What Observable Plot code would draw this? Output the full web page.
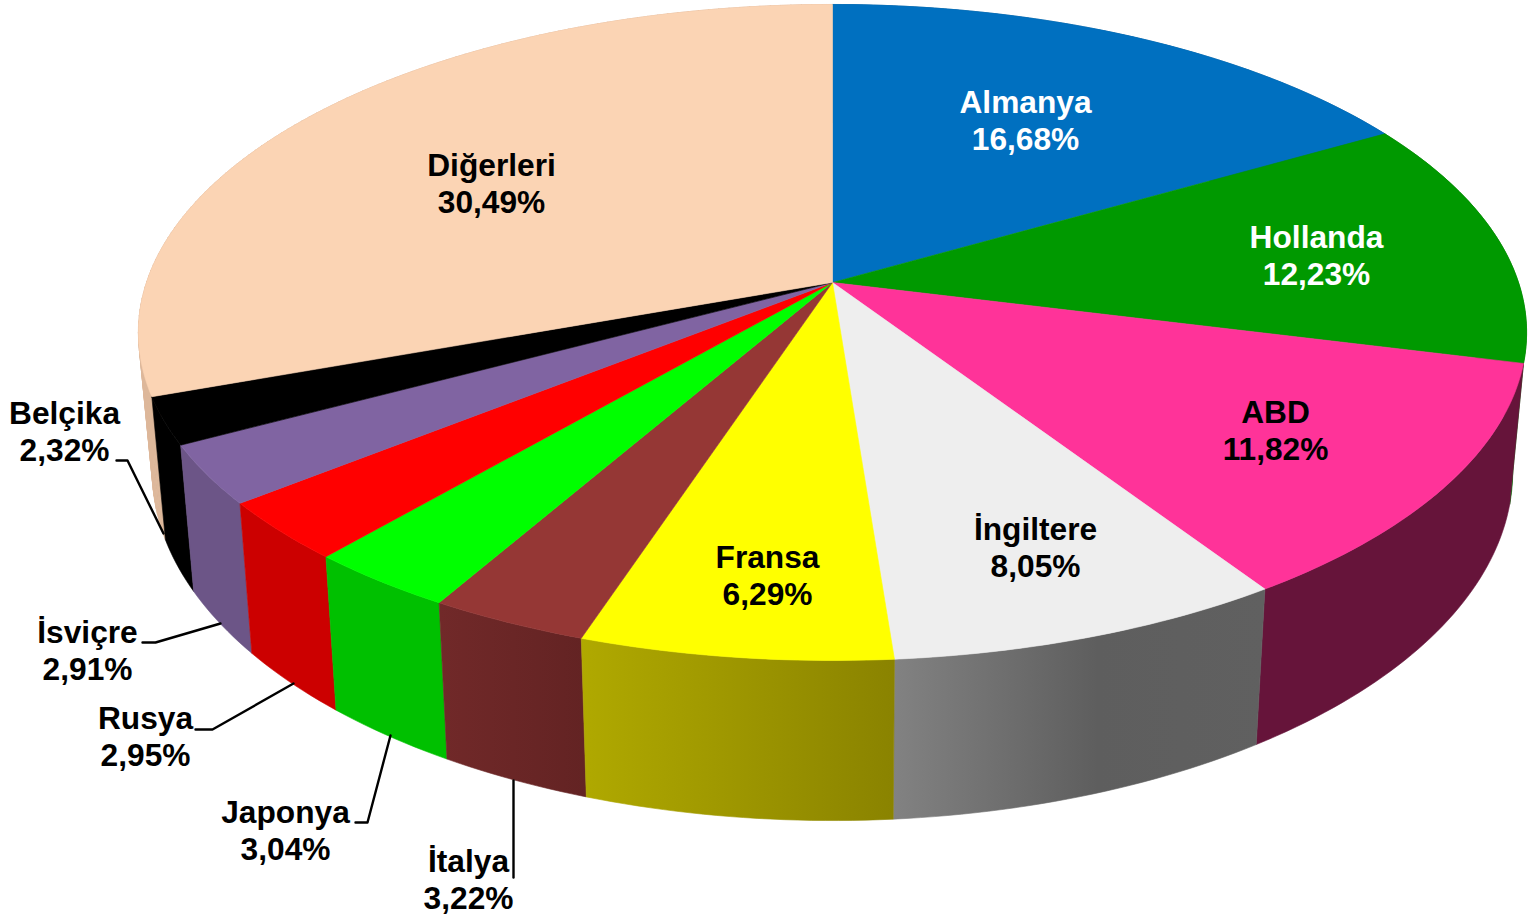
<!DOCTYPE html>
<html lang="tr">
<head>
<meta charset="utf-8">
<style>html,body{margin:0;padding:0;background:#fff}svg{display:block}</style>
<script src="https://cdn.jsdelivr.net/npm/d3@7"></script>
<script src="https://cdn.jsdelivr.net/npm/@observablehq/plot@0.6"></script>
</head>
<body>
<div id="chart"></div>
<script>
// Data
const countries = ["Almanya","Hollanda","ABD","İngiltere","Fransa","İtalya","Japonya","Rusya","İsviçre","Belçika","Diğerleri"];
const shares = [16.68,12.23,11.82,8.05,6.29,3.22,3.04,2.95,2.91,2.32,30.49];
const shareLabels = ["16,68%","12,23%","11,82%","8,05%","6,29%","3,22%","3,04%","2,95%","2,91%","2,32%","30,49%"];

// Styles
const topColors = ["#0070C0","#009900","#FF3399","#EEEEEE","#FFFF00","#953735","#00FF00","#FF0000","#8064A2","#000000","#FBD4B4"];
const sideColors = ["#00538F","#006F00","#66143A","url(#g3)","url(#g4)","url(#g5)","#00C000","#CC0000","#6C5587","#000000","#DDB89A"];
const labelColors = ["#fff","#fff","#000","#000","#000","#000","#000","#000","#000","#000","#000"];
const gradients = [
  {id:"g3", stops:[[0,"#828282"],[0.55,"#5E5E5E"],[1,"#606060"]]},
  {id:"g4", stops:[[0,"#B0A900"],[1,"#8A8300"]]},
  {id:"g5", stops:[[0,"#712929"],[1,"#632323"]]}
];

// Layout of labels and leader lines (page units)
const labelX = [1025,1316,1275,1035,767,468,285,145,87,64,491];
const labelY = [119,254,429,546,574,878,829,735,649,430,182];
const leaders = [
  [[116,460],[127,460],[163,533]],
  [[142,642],[155,642],[220,623]],
  [[195,729],[212,729],[293,683]],
  [[355,822],[367,822],[390,735]],
  [[513,780],[513,877]]
];

// Perspective view of the pie disc
const apex = {x:832, y:282}, rimX = 686, rimY = 320.4, tilt = 0.1524;
const base = {shrink:0.98, stretch:1.064, drop:117.8};
const topPoint = a => {
  const u = Math.sin(a), v = -Math.cos(a), w = 1 - tilt * v;
  return {x: apex.x + rimX * u / w, y: apex.y + rimY * v / w};
};
const basePoint = a => {
  const p = topPoint(a);
  return {x: apex.x + base.shrink * (p.x - apex.x), y: base.stretch * p.y + base.drop};
};
const arcAngles = (a0, a1) => {
  const n = Math.max(2, Math.ceil((a1 - a0) / (Math.PI / 180)));
  return d3.range(n + 1).map(i => a0 + (a1 - a0) * i / n);
};

const total = d3.sum(shares);
let running = 0;
const slices = shares.map((s, i) => {
  const a0 = running / total * 2 * Math.PI;
  running += s;
  const a1 = running / total * 2 * Math.PI;
  const angles = arcAngles(a0, a1);
  const rim = angles.map(topPoint);
  const foot = angles.map(basePoint);
  // Small ruled quads for the slice whose side wraps round the left silhouette
  const quads = d3.pairs(d3.range(angles.length)).flatMap(([j, k], q) =>
    [rim[j], rim[k], foot[k], foot[j], rim[j]].map(p => ({...p, q})));
  return {
    i,
    depth: -Math.cos((a0 + a1) / 2),
    top: [apex, ...rim, apex],
    outline: [...rim, ...foot.slice().reverse(), rim[0]],
    quads
  };
});

const face = (points, color) => Plot.line(points, {x:"x", y:"y", fill:color, stroke:color, strokeWidth:0.6, curve:"linear"});
const ruled = (points, color) => Plot.line(points, {x:"x", y:"y", z:"q", fill:color, stroke:color, strokeWidth:0.8, curve:"linear"});
const sideMark = s => countries[s.i] === "Diğerleri" ? ruled(s.quads, sideColors[s.i]) : face(s.outline, sideColors[s.i]);
const sideOrder = slices.slice().sort((a, b) => a.depth - b.depth);

const defs = () => {
  const d = d3.create("svg:defs");
  for (const g of gradients) {
    const lg = d.append("linearGradient").attr("id", g.id).attr("x1", 0).attr("x2", 1).attr("y1", 0).attr("y2", 0);
    for (const [o, c] of g.stops) lg.append("stop").attr("offset", o).attr("stop-color", c);
  }
  return d.node();
};

const labels = countries.map((c, i) => ({text: c + "\n" + shareLabels[i], x: labelX[i], y: labelY[i], color: labelColors[i]}));

const chart = Plot.plot({
  width: 1531,
  height: 917,
  margin: 0,
  style: {background:"#fff", fontFamily:"'Liberation Sans', Arial, sans-serif"},
  x: {axis:null, domain:[0,1531], range:[0,1531]},
  y: {axis:null, domain:[0,917], range:[0,917]},
  marks: [
    defs,
    ...sideOrder.map(sideMark),
    ...slices.map(s => face(s.top, topColors[s.i])),
    ...leaders.map(l => Plot.line(l.map(([x, y]) => ({x, y})), {x:"x", y:"y", stroke:"#000", strokeWidth:2.4, curve:"linear"})),
    Plot.text(labels, {
      x:"x", y:"y", text:"text",
      fill:{value:"color", scale:null},
      fontSize:31.7, fontWeight:"bold", lineHeight:1.17,
      textAnchor:"middle", lineAnchor:"middle",
      fontFamily:"'Liberation Sans', Arial, sans-serif"
    })
  ]
});
document.getElementById("chart").append(chart);
</script>
</body>
</html>
